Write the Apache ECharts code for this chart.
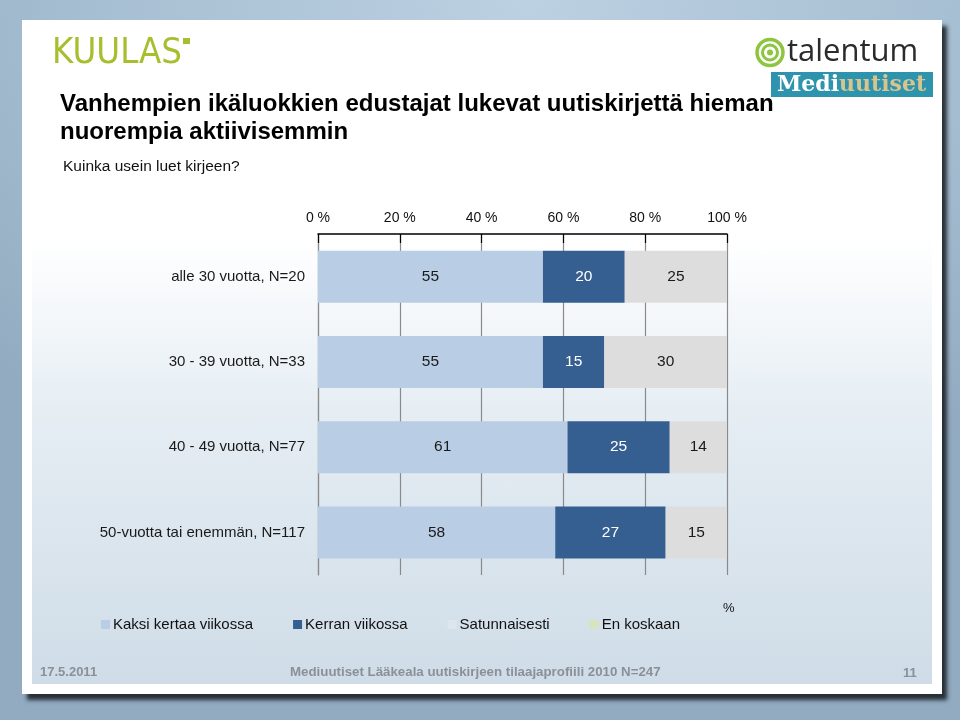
<!DOCTYPE html>
<html>
<head>
<meta charset="utf-8">
<script src="https://cdn.jsdelivr.net/npm/echarts@6/dist/echarts.min.js"></script>
<style>
  html, body { margin: 0; padding: 0; width: 960px; height: 720px; overflow: hidden; }
  body { background: radial-gradient(ellipse 80% 70% at 55% 0%, #bcd1e2 0%, #a7bfd2 55%, #92abc0 100%); position: relative; }
  #slide { position: absolute; left: 22px; top: 20px; width: 920px; height: 674px; background: #ffffff;
           box-shadow: 5px 6px 4px rgba(20,25,30,0.85); }
  #inner { position: absolute; left: 10px; top: 8px; width: 900px; height: 656px;
           background: linear-gradient(to bottom, #ffffff 0%, #ffffff 32%, #e6eef4 58%, #cfdce7 100%); }
  #chart { position: absolute; left: 0; top: 0; width: 960px; height: 720px; }
</style>
</head>
<body>
<div id="slide"><div id="inner"></div></div>
<div id="chart"></div>
<script>
const categories = ['alle 30 vuotta, N=20', '30 - 39 vuotta, N=33', '40 - 49 vuotta, N=77', '50-vuotta tai enemmän, N=117'];
const seriesNames = ['Kaksi kertaa viikossa', 'Kerran viikossa', 'Satunnaisesti', 'En koskaan'];
const kaksiKertaa = [55, 55, 61, 58];
const kerranViikossa = [20, 15, 25, 27];
const satunnaisesti = [25, 30, 14, 15];
const enKoskaan = [0, 0, 0, 0];
const xTickValues = [0, 20, 40, 60, 80, 100];

const colors = ['#b9cde5', '#365f91', '#dddddd', '#d7e4bd'];
const labelColors = ['#1a1a1a', '#ffffff', '#1a1a1a', '#1a1a1a'];
const allData = [kaksiKertaa, kerranViikossa, satunnaisesti, enKoskaan];
const FONT = 'Liberation Sans, Arial, sans-serif';

const chart = echarts.init(document.getElementById('chart'), null, { renderer: 'canvas' });

const series = allData.map((d, i) => ({
  name: seriesNames[i],
  type: 'bar',
  stack: 'total',
  data: d,
  barWidth: 52,
  itemStyle: { color: colors[i] },
  label: {
    show: i < 3,
    position: 'inside',
    color: labelColors[i],
    fontSize: 15.5,
    fontFamily: FONT
  },
  emphasis: { disabled: true }
}));

const option = {
  animation: false,
  backgroundColor: 'transparent',
  textStyle: { fontFamily: FONT },
  title: [
    {
      text: 'Vanhempien ikäluokkien edustajat lukevat uutiskirjettä hieman\nnuorempia aktiivisemmin',
      left: 55, top: 85,
      textStyle: { fontSize: 24, fontWeight: 'bold', color: '#000000', lineHeight: 28, fontFamily: FONT }
    },
    {
      text: 'Kuinka usein luet kirjeen?',
      left: 58, top: 154,
      textStyle: { fontSize: 15.5, fontWeight: 'normal', color: '#111111', fontFamily: FONT }
    }
  ],
  legend: {
    left: 96, top: 612,
    itemWidth: 9, itemHeight: 9, itemGap: 40,
    icon: 'rect',
    selectedMode: false,
    textStyle: { fontSize: 15, color: '#111111', padding: [0, 0, 0, -2] },
    data: [
      { name: seriesNames[0] },
      { name: seriesNames[1] },
      { name: seriesNames[2], itemStyle: { color: '#dde6ed' } },
      { name: seriesNames[3] }
    ]
  },
  grid: { left: 318, right: 233, top: 234, bottom: 145, containLabel: false },
  xAxis: {
    type: 'value',
    position: 'top',
    min: 0, max: 100, interval: 20,
    axisLine: { show: true, lineStyle: { color: '#000000', width: 1.5 } },
    axisTick: { show: true, inside: true, length: 9, lineStyle: { color: '#000000', width: 1.2 } },
    axisLabel: { formatter: v => xTickValues.includes(v) ? v + ' %' : '', fontSize: 14, color: '#111111', margin: 9 },
    splitLine: { show: true, lineStyle: { color: '#8a8a8a', width: 1.2 } }
  },
  yAxis: {
    type: 'category',
    inverse: true,
    data: categories,
    axisLine: { show: true, lineStyle: { color: '#8a8a8a', width: 1.2 } },
    axisTick: { show: false },
    axisLabel: { fontSize: 15, color: '#1a1a1a', margin: 13 }
  },
  series: series,
  graphic: [
    // KUULAS logo
    {
      type: 'text', left: 52, top: 36, scaleX: 0.905,
      style: { text: 'KUULAS', fontSize: 36, fontFamily: 'DejaVu Sans, sans-serif', fill: '#a6bf2f', fontWeight: 'normal' }
    },
    { type: 'rect', shape: { x: 183, y: 38, width: 7, height: 6 }, style: { fill: '#a6bf2f' } },
    // talentum logo rings
    { type: 'circle', shape: { cx: 770, cy: 52.5, r: 13 }, style: { fill: 'none', stroke: '#8cc63e', lineWidth: 3.5 } },
    { type: 'circle', shape: { cx: 770, cy: 52.5, r: 7.5 }, style: { fill: 'none', stroke: '#8cc63e', lineWidth: 3 } },
    { type: 'circle', shape: { cx: 770, cy: 52.5, r: 3 }, style: { fill: '#8cc63e' } },
    {
      type: 'text', left: 787, top: 37,
      style: { text: 'talentum', fontSize: 31, fontFamily: 'Open Sans, DejaVu Sans, sans-serif', fill: '#2b2b2b', fontWeight: 'normal' }
    },
    { type: 'rect', shape: { x: 771, y: 72, width: 162, height: 25 }, style: { fill: '#2e93ad' } },
    {
      type: 'text',
      style: {
        x: 777, y: 85,
        verticalAlign: 'middle',
        text: '{a|Medi}{b|uutiset}',
        rich: {
          a: { fontSize: 22, fontFamily: 'DejaVu Serif, serif', fontWeight: 'bold', fill: '#ffffff', color: '#ffffff' },
          b: { fontSize: 22, fontFamily: 'DejaVu Serif, serif', fontWeight: 'bold', fill: '#d7c48f', color: '#d7c48f' }
        }
      }
    },
    // percent sign near legend
    { type: 'text', left: 723, top: 602, style: { text: '%', fontSize: 13, fill: '#111111', fontFamily: FONT } },
    // footer
    { type: 'text', left: 40, top: 666, style: { text: '17.5.2011', fontSize: 13, fontWeight: 'bold', fill: '#8a9097', fontFamily: FONT } },
    { type: 'text', left: 290, top: 666, style: { text: 'Mediuutiset Lääkeala uutiskirjeen tilaajaprofiili 2010 N=247', fontSize: 13.3, fontWeight: 'bold', fill: '#8a9097', fontFamily: FONT } },
    { type: 'text', left: 903, top: 667, style: { text: '11', fontSize: 13, fontWeight: 'bold', fill: '#8a9097', fontFamily: FONT } }
  ]
};

chart.setOption(option);
</script>
</body>
</html>
